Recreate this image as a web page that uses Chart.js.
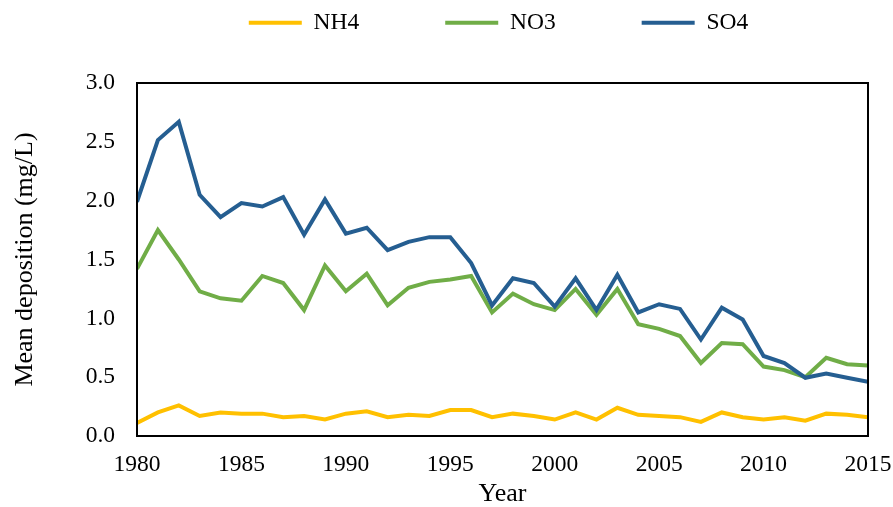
<!DOCTYPE html>
<html>
<head>
<meta charset="utf-8">
<script src="https://cdn.jsdelivr.net/npm/chart.js@4/dist/chart.umd.min.js"></script>
<style>
  html, body { margin: 0; padding: 0; background: #ffffff; }
  #wrap { width: 893px; height: 507px; position: relative; }
</style>
</head>
<body>
<div id="wrap"><canvas id="c" width="893" height="507"></canvas></div>
<script>
const years = [1980,1981,1982,1983,1984,1985,1986,1987,1988,1989,1990,1991,1992,1993,1994,1995,1996,1997,1998,1999,2000,2001,2002,2003,2004,2005,2006,2007,2008,2009,2010,2011,2012,2013,2014,2015];
const nh4 = [0.11,0.20,0.26,0.17,0.20,0.19,0.19,0.16,0.17,0.14,0.19,0.21,0.16,0.18,0.17,0.22,0.22,0.16,0.19,0.17,0.14,0.20,0.14,0.24,0.18,0.17,0.16,0.12,0.20,0.16,0.14,0.16,0.13,0.19,0.18,0.16];
const no3 = [1.42,1.75,1.50,1.23,1.17,1.15,1.36,1.30,1.07,1.45,1.23,1.38,1.11,1.26,1.31,1.33,1.36,1.05,1.21,1.12,1.07,1.25,1.03,1.25,0.95,0.91,0.85,0.62,0.79,0.78,0.59,0.56,0.50,0.665,0.61,0.60];
const so4 = [1.99,2.515,2.67,2.05,1.86,1.98,1.95,2.03,1.71,2.01,1.72,1.77,1.58,1.65,1.69,1.69,1.47,1.11,1.34,1.30,1.10,1.34,1.07,1.37,1.05,1.12,1.08,0.82,1.09,0.99,0.68,0.62,0.495,0.53,0.495,0.46];
const seriesNames = ['NH4','NO3','SO4'];
const seriesColors = ['#FFC000','#70AD47','#255E91'];
const xTitle = 'Year';
const yTitle = 'Mean deposition (mg/L)';

const FONT = '"Liberation Serif", "Times New Roman", serif';
const LEGEND_PAD = 86;
const toPts = vals => years.map((yr, i) => ({ x: yr, y: vals[i] }));

const boxPlugin = {
  id: 'plotBox',
  beforeInit(chart) {
    const lg = chart.legend;
    if (lg) {
      const origFit = lg.fit;
      lg.fit = function () { origFit.call(this); this.height = 83; };
      const origDraw = lg._draw;
      lg._draw = function () {
        const ctx = this.ctx;
        ctx.save();
        ctx.translate(-4, -(LEGEND_PAD - 11));
        origDraw.call(this);
        ctx.restore();
      };
    }
  },
  afterDatasetsDraw(chart) {
    const a = chart.chartArea;
    const ctx = chart.ctx;
    ctx.save();
    ctx.strokeStyle = '#000000';
    ctx.lineWidth = 2;
    ctx.strokeRect(a.left, a.top, a.right - a.left, a.bottom - a.top);
    ctx.restore();
  }
};

new Chart(document.getElementById('c'), {
  type: 'line',
  data: {
    datasets: [nh4, no3, so4].map((vals, i) => ({
      label: seriesNames[i],
      data: toPts(vals),
      borderColor: seriesColors[i],
      backgroundColor: seriesColors[i],
      borderWidth: 4,
      pointRadius: 0,
      tension: 0,
      order: 2 - i
    }))
  },
  options: {
    responsive: false,
    animation: false,
    layout: { padding: { left: 0, right: 0, top: 0, bottom: 0 } },
    plugins: {
      tooltip: { enabled: false },
      legend: {
        position: 'top',
        fullSize: false,
        labels: {
          font: { family: FONT, size: 23.5 },
          color: '#000000',
          boxWidth: 53,
          boxHeight: 4,
          padding: LEGEND_PAD,
          generateLabels(chart) {
            return seriesNames.map((n, i) => ({
              text: n,
              fillStyle: seriesColors[i],
              strokeStyle: seriesColors[i],
              lineWidth: 0,
              datasetIndex: i,
              hidden: false,
              fontColor: '#000000'
            }));
          }
        }
      }
    },
    scales: {
      x: {
        type: 'linear',
        min: 1980,
        max: 2015,
        grid: { display: false, drawTicks: false },
        border: { display: false },
        ticks: {
          stepSize: 5,
          padding: 15,
          color: '#000000',
          font: { family: FONT, size: 23.5 },
          callback: v => String(v),
          maxRotation: 0
        },
        title: {
          display: true,
          text: xTitle,
          color: '#000000',
          font: { family: FONT, size: 26, lineHeight: 1 },
          padding: { top: 0, bottom: 0 }
        },
        afterFit(scale) { scale.height = 71; scale.paddingRight = 25; scale.paddingLeft = 0; }
      },
      y: {
        min: 0,
        max: 3,
        grid: { display: false, drawTicks: false },
        border: { display: false },
        ticks: {
          stepSize: 0.5,
          padding: 22,
          color: '#000000',
          font: { family: FONT, size: 23.5 },
          callback: v => v.toFixed(1)
        },
        title: {
          display: true,
          text: yTitle,
          color: '#000000',
          font: { family: FONT, size: 26, lineHeight: 1 },
          padding: { top: 12, bottom: 0 }
        },
        afterFit(scale) { scale.width = 137; }
      }
    }
  },
  plugins: [boxPlugin]
});
</script>
</body>
</html>
